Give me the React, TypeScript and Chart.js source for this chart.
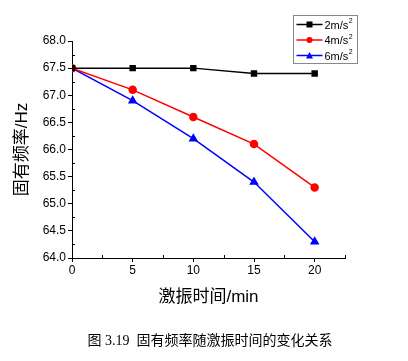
import React, { useEffect, useRef } from "react";
import { Chart, registerables } from "chart.js";

Chart.register(...registerables);

const times = [0, 5, 10, 15, 20];
const xTicks = [0, 5, 10, 15, 20];
const series2 = [67.5, 67.5, 67.5, 67.4, 67.4];
const series4 = [67.5, 67.1, 66.6, 66.1, 65.3];
const series6 = [67.5, 66.9, 66.2, 65.4, 64.3];
const seriesNames = ["2m/s", "4m/s", "6m/s"];
const seriesColors = ["#000000", "#ff0000", "#0000ff"];
const seriesMarkers = ["rect", "circle", "triangle"];
const yTitle = "固有频率/Hz";
const xTitle = "激振时间/min";
const caption = "图 3.19  固有频率随激振时间的变化关系";

const latin = "'Liberation Sans', Arial, 'Noto Sans CJK SC', sans-serif";

const minorTicks = {
  id: "minorTicks",
  afterDraw(chart: any) {
    const ctx = chart.ctx;
    const x = chart.scales.x;
    const y = chart.scales.y;
    const area = chart.chartArea;
    ctx.save();
    ctx.strokeStyle = "#000";
    ctx.lineWidth = 1;
    for (let v = 2.5; v <= x.max + 1e-6; v += 5) {
      const px = Math.round(x.getPixelForValue(v)) + 0.5;
      ctx.beginPath();
      ctx.moveTo(px, area.bottom);
      ctx.lineTo(px, area.bottom - 3);
      ctx.stroke();
    }
    for (let v = y.min + 0.25; v < y.max; v += 0.5) {
      const py = Math.round(y.getPixelForValue(v)) + 0.5;
      ctx.beginPath();
      ctx.moveTo(area.left, py);
      ctx.lineTo(area.left + 3, py);
      ctx.stroke();
    }
    ctx.restore();
  },
};

const customLegend = {
  id: "customLegend",
  afterDraw(chart: any) {
    const ctx = chart.ctx;
    const bx = 293.5, by = 15.5, bw = 64, bh = 48;
    ctx.save();
    ctx.fillStyle = "#fff";
    ctx.fillRect(bx, by, bw, bh);
    ctx.strokeStyle = "#888";
    ctx.lineWidth = 1;
    ctx.strokeRect(bx, by, bw, bh);
    chart.data.datasets.forEach((ds: any, i: number) => {
      const cy = by + 9 + i * 15.5;
      ctx.strokeStyle = ds.borderColor;
      ctx.lineWidth = 1.5;
      ctx.beginPath();
      ctx.moveTo(bx + 3, cy);
      ctx.lineTo(bx + 29, cy);
      ctx.stroke();
      ctx.fillStyle = ds.borderColor;
      const mx = bx + 16;
      if (ds.pointStyle === "rect") {
        ctx.fillRect(mx - 3, cy - 3, 6, 6);
      } else if (ds.pointStyle === "circle") {
        ctx.beginPath();
        ctx.arc(mx, cy, 3, 0, Math.PI * 2);
        ctx.fill();
      } else {
        ctx.beginPath();
        ctx.moveTo(mx, cy - 3.5);
        ctx.lineTo(mx + 3.5, cy + 3);
        ctx.lineTo(mx - 3.5, cy + 3);
        ctx.closePath();
        ctx.fill();
      }
      ctx.fillStyle = "#000";
      ctx.textBaseline = "middle";
      ctx.textAlign = "left";
      ctx.font = "11px " + latin;
      const label = ds.label;
      ctx.fillText(label, bx + 31, cy + 1);
      const w = ctx.measureText(label).width;
      ctx.font = "7px " + latin;
      ctx.fillText("2", bx + 31 + w + 0.5, cy - 3);
    });
    ctx.restore();
  },
};

export default function App() {
  const ref = useRef<HTMLCanvasElement>(null);
  useEffect(() => {
    document.body.style.margin = "0";
    const make = (data: number[], i: number) => ({
      label: seriesNames[i],
      data: data.map((v, k) => ({ x: times[k], y: v })),
      borderColor: seriesColors[i],
      backgroundColor: seriesColors[i],
      pointBackgroundColor: seriesColors[i],
      pointBorderColor: seriesColors[i],
      pointStyle: seriesMarkers[i],
      pointRadius: i === 2 ? 4 : 3.5,
      borderWidth: 1.5,
      tension: 0,
    });
    const chart = new Chart(ref.current!, {
      type: "line",
      data: {
        datasets: [make(series2, 0), make(series4, 1), make(series6, 2)],
      },
      options: {
        animation: false,
        responsive: false,
        layout: { padding: { left: 0, top: 41, right: 63, bottom: 43 } },
        plugins: { legend: { display: false }, tooltip: { enabled: false } },
        scales: {
          x: {
            type: "linear",
            min: 0,
            max: 22.5,
            afterBuildTicks: (s: any) => {
              s.ticks = xTicks.map((v) => ({ value: v }));
            },
            afterFit: (s: any) => {
              s.height = 60;
            },
            ticks: { color: "#000", font: { size: 12, family: latin }, padding: 1, maxRotation: 0 },
            grid: { drawOnChartArea: false, drawTicks: true, tickLength: 4, color: "#000" },
            border: { display: true, color: "#000", width: 1 },
            title: {
              display: true,
              text: xTitle,
              color: "#000",
              font: { size: 17, family: latin },
              padding: { top: 0, bottom: 10 },
            },
          },
          y: {
            min: 64,
            max: 68,
            afterFit: (s: any) => {
              s.width = 72;
            },
            ticks: {
              stepSize: 0.5,
              color: "#000",
              font: { size: 12, family: latin },
              padding: 2,
              callback: (v: any) => Number(v).toFixed(1),
            },
            grid: { drawOnChartArea: false, drawTicks: true, tickLength: 4, color: "#000" },
            border: { display: true, color: "#000", width: 1 },
            title: {
              display: true,
              text: yTitle,
              color: "#000",
              font: { size: 17, family: latin },
              padding: { top: 12, bottom: 0 },
            },
          },
        },
      },
      plugins: [minorTicks, customLegend],
    } as any);
    return () => chart.destroy();
  }, []);
  return (
    <div style={{ position: "relative", width: 408, height: 361 }}>
      <canvas ref={ref} width={408} height={361} style={{ position: "absolute", left: 0, top: 0 }} />
      <div
        style={{
          position: "absolute",
          left: 6,
          top: 329,
          width: 408,
          textAlign: "center",
          fontSize: 14,
          fontFamily: "'Liberation Serif', 'Noto Sans CJK SC', serif",
          color: "#000",
          whiteSpace: "pre",
        }}
      >
        {caption}
      </div>
    </div>
  );
}
